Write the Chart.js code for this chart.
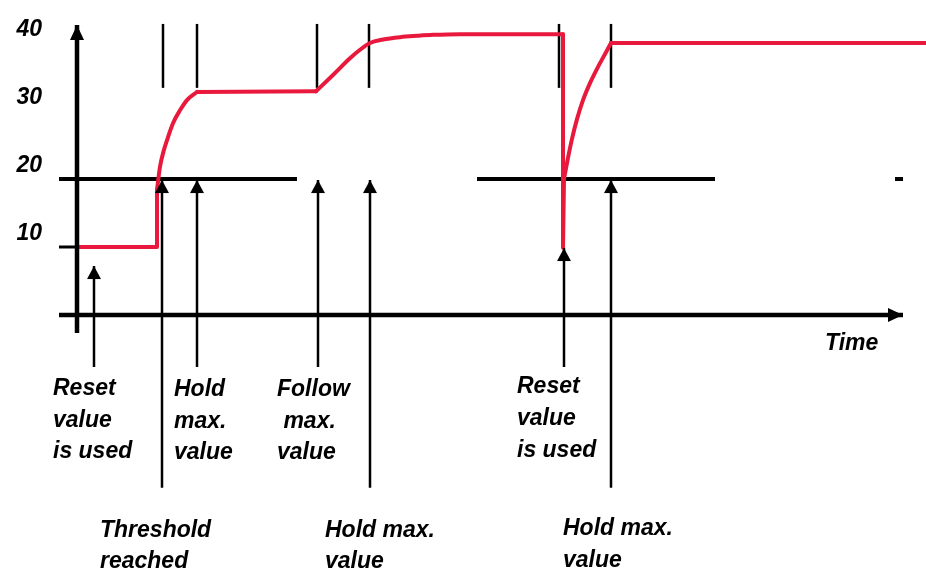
<!DOCTYPE html>
<html>
<head>
<meta charset="utf-8">
<script src="https://cdn.jsdelivr.net/npm/chart.js@4.4.1/dist/chart.umd.min.js"></script>
<style>
html,body{margin:0;padding:0;background:#ffffff;overflow:hidden;}
#wrap{width:926px;height:569px;position:relative;}
</style>
</head>
<body>
<div id="wrap"><canvas id="c"></canvas></div>
<script>
// ---- data ----
const yTickValues = [10, 20, 30, 40];
const xLabel = 'Time';

// measured signal (red)
const signalTime  = [0, 8.0, 8.0, 8.3, 8.7, 9.0, 9.6, 10.3, 11.0, 12.0, 23.9, 25.6, 27.3, 28.3, 29.3, 30.6, 32.3, 34.0, 35.6, 38.3, 48.6, 48.6, 48.7, 49.1, 49.5, 50.0, 50.6, 51.3, 52.0, 52.7, 53.4, 84.9];
const signalValue = [10, 10, 18.4, 21.8, 24.3, 25.7, 28.2, 30.1, 31.6, 32.8, 32.9, 35.3, 37.75, 39.0, 40.0, 40.5, 40.85, 41.05, 41.2, 41.3, 41.3, 9.9, 20.0, 23.1, 25.9, 28.8, 31.6, 34.1, 36.2, 38.1, 40.0, 40.0];
// 1 = the segment that starts at this point is a smooth curve, 0 = straight
const signalSmooth = [0, 0, 1, 1, 1, 1, 1, 1, 1, 0, 1, 1, 1, 1, 1, 1, 1, 1, 1, 1, 0, 0, 1, 1, 1, 1, 1, 1, 1, 1, 0];

// threshold line (drawn in pieces)
const thresholdValue = 20;
const thresholdStart = [-1.8, 40.0, 81.8];
const thresholdEnd   = [22.0, 63.8, 82.6];

// reset value
const resetValue = 10;

// axes extents
const axisXStart = -1.8, axisXEnd = 82.6;
const axisYStart = -2.65, axisYEnd = 42.65;

// short vertical marks at the top
const markerTime   = [8.6, 12.0, 24.0, 29.2, 48.2, 53.4];
const markerTop    = 42.8;
const markerBottom = 33.4;

// upward pointing arrows
const arrowTime = [1.7, 8.5, 12.0, 24.1, 29.3, 48.7, 53.4];
const arrowTip  = [7.2, 19.85, 19.85, 19.85, 19.85, 9.85, 19.85];
const arrowBase = [-7.65, -25.4, -7.65, -7.65, -25.4, -7.65, -25.4];

// annotation texts
const annotations = [
  { lines: ['Reset', 'value', 'is used'], x: 53, y: [395, 427, 458] },
  { lines: ['Hold', 'max.', 'value'], x: 174, y: [396, 428, 459] },
  { lines: ['Follow', ' max.', 'value'], x: 277, y: [396, 428, 459] },
  { lines: ['Reset', 'value', 'is used'], x: 517, y: [393, 425, 457] },
  { lines: ['Threshold', 'reached'], x: 100, y: [537, 568] },
  { lines: ['Hold max.', 'value'], x: 325, y: [537, 568] },
  { lines: ['Hold max.', 'value'], x: 563, y: [535, 567] }
];

// ---- styling ----
const FONT_FAMILY = "'Liberation Sans', Arial, sans-serif";
const RED = '#E8193C';

function makeArrow(w, h) {
  const c = document.createElement('canvas');
  c.width = w + 2;
  c.height = 2 * h + 2;
  const g = c.getContext('2d');
  const cx = c.width / 2, cy = c.height / 2;
  g.fillStyle = '#000';
  g.beginPath();
  g.moveTo(cx, cy);
  g.lineTo(cx + w / 2, cy + h);
  g.lineTo(cx - w / 2, cy + h);
  g.closePath();
  g.fill();
  return c;
}
const axisArrow = makeArrow(14, 15);
const smallArrow = makeArrow(14, 13);

const datasets = [];

// split the signal into straight and smooth pieces
let start = 0;
for (let i = 1; i <= signalSmooth.length; i++) {
  if (i === signalSmooth.length || signalSmooth[i] !== signalSmooth[start]) {
    const pts = [];
    for (let k = start; k <= i; k++) pts.push({ x: signalTime[k], y: signalValue[k] });
    const smooth = signalSmooth[start] === 1;
    datasets.push({
      label: 'signal',
      data: pts,
      borderColor: RED, borderWidth: 4, pointRadius: 0,
      cubicInterpolationMode: smooth ? 'monotone' : 'default',
      tension: 0, borderCapStyle: 'round', borderJoinStyle: 'round', order: 1
    });
    start = i;
  }
}

const thrData = [];
thresholdStart.forEach((s, i) => {
  thrData.push({ x: s, y: thresholdValue });
  thrData.push({ x: thresholdEnd[i], y: thresholdValue });
  if (i < thresholdStart.length - 1) thrData.push({ x: (thresholdEnd[i] + thresholdStart[i + 1]) / 2, y: null });
});
datasets.push({
  label: 'threshold', data: thrData, spanGaps: false,
  borderColor: '#000', borderWidth: 4, pointRadius: 0, order: 2
});

datasets.push({
  label: 'reset', data: [{ x: axisXStart, y: resetValue }, { x: 0, y: resetValue }],
  borderColor: '#000', borderWidth: 3, pointRadius: 0, order: 2
});

datasets.push({
  label: 'yaxis', data: [{ x: 0, y: axisYStart }, { x: 0, y: axisYEnd }],
  borderColor: '#000', borderWidth: 4.5, order: 0,
  pointStyle: axisArrow, pointRadius: c => c.dataIndex === 1 ? 5 : 0, pointRotation: 0
});
datasets.push({
  label: 'xaxis', data: [{ x: axisXStart, y: 0 }, { x: axisXEnd, y: 0 }],
  borderColor: '#000', borderWidth: 4.5, order: 0,
  pointStyle: axisArrow, pointRadius: c => c.dataIndex === 1 ? 5 : 0, pointRotation: 90
});

markerTime.forEach(t => {
  datasets.push({
    label: 'marker', data: [{ x: t, y: markerBottom }, { x: t, y: markerTop }],
    borderColor: '#000', borderWidth: 2.5, pointRadius: 0, order: 2
  });
});

arrowTime.forEach((t, i) => {
  datasets.push({
    label: 'arrow', data: [{ x: t, y: arrowBase[i] }, { x: t, y: arrowTip[i] }],
    borderColor: '#000', borderWidth: 2.5, order: 0,
    pointStyle: smallArrow, pointRadius: c => c.dataIndex === 1 ? 5 : 0
  });
});

const textPlugin = {
  id: 'texts',
  afterDraw(chart) {
    const ctx = chart.ctx;
    ctx.save();
    ctx.fillStyle = '#000';
    ctx.font = 'italic bold 23px ' + FONT_FAMILY;
    ctx.textAlign = 'left';
    ctx.textBaseline = 'alphabetic';
    annotations.forEach(a => {
      a.lines.forEach((l, i) => ctx.fillText(l, a.x, a.y[i]));
    });
    ctx.fillText(xLabel, 825, 350);
    ctx.restore();
  }
};

new Chart(document.getElementById('c'), {
  type: 'line',
  data: { datasets },
  options: {
    responsive: true,
    maintainAspectRatio: false,
    animation: false,
    events: [],
    layout: { padding: 0, autoPadding: false },
    plugins: { legend: { display: false }, tooltip: { enabled: false } },
    scales: {
      x: { type: 'linear', display: false, min: -3.2, max: 84.9 },
      y: {
        type: 'linear', min: -37.35, max: 46.32,
        grid: { display: false, drawTicks: false }, border: { display: false },
        ticks: {
          color: '#000', padding: 3, labelOffset: -13,
          font: { family: FONT_FAMILY, size: 23, style: 'italic', weight: 'bold' }
        },
        afterBuildTicks: s => { s.ticks = yTickValues.map(v => ({ value: v })); },
        afterFit: s => { s.width = 45; s.paddingTop = 0; s.paddingBottom = 0; }
      }
    }
  },
  plugins: [textPlugin]
});
</script>
</body>
</html>
